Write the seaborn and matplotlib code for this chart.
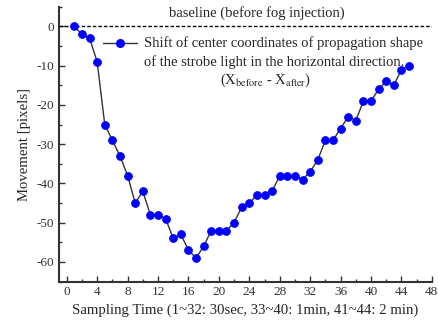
"""Shift of strobe light center during fog injection"""

import matplotlib
matplotlib.use("Agg")
import matplotlib.pyplot as plt
from matplotlib.ticker import MultipleLocator
import seaborn as sns
import pandas as pd

sample_no = list(range(1, 46))
movement = [0, -2, -3, -9, -25, -29, -33, -38, -45, -42,
            -48, -48, -49, -54, -53, -57, -59, -56, -52, -52,
            -52, -50, -46, -45, -43, -43, -42, -38, -38, -38,
            -39, -37, -34, -29, -29, -26, -23, -24, -19, -19,
            -16, -14, -15, -11, -10]
x_ticks = list(range(0, 49, 4))
y_ticks = [0, -10, -20, -30, -40, -50, -60]

df = pd.DataFrame({"sample": sample_no, "movement": movement})

sns.set_style("ticks")
plt.rcParams["font.family"] = ["Liberation Serif", "DejaVu Serif"]
plt.rcParams["mathtext.fontset"] = "stix"
plt.rcParams["axes.unicode_minus"] = False

fig = plt.figure(figsize=(4.38, 3.27), dpi=100)
ax = fig.add_axes([0.135, 0.139, 0.851, 0.84])

ax.axhline(0, color="black", linestyle=(0, (2.5, 1.5)), linewidth=1.0, zorder=1)
sns.lineplot(data=df, x="sample", y="movement", ax=ax, color="#333333",
             linewidth=1.0, marker="o", markersize=5.5, markerfacecolor="blue",
             markeredgecolor="blue", zorder=3)

ax.set_xlim(-1, 48)
ax.set_ylim(-65, 5)
ax.set_xticks(x_ticks)
ax.set_yticks(y_ticks)
ax.xaxis.set_minor_locator(MultipleLocator(2))
ax.yaxis.set_minor_locator(MultipleLocator(5))
ax.tick_params(which="both", direction="in", labelsize=9.5, colors="#333333")
ax.tick_params(which="major", length=4, width=1)
ax.tick_params(which="minor", length=2.5, width=1)
for side in ["top", "right"]:
    ax.spines[side].set_visible(False)
for side in ["left", "bottom"]:
    ax.spines[side].set_linewidth(1.5)
    ax.spines[side].set_color("#333333")

ax.set_xlabel("Sampling Time (1~32: 30sec, 33~40: 1min, 41~44: 2 min)", fontsize=10.6)
ax.set_ylabel("Movement [pixels]", fontsize=10.6)

# legend-like annotations
ax.text(25, 3.4, "baseline (before fog injection)", ha="center", va="center", fontsize=10.5)
ax.plot([4.8, 9.3], [-4.3, -4.3], color="#333333", linewidth=1.0)
ax.plot([7], [-4.3], marker="o", markersize=5.5, color="blue")
ax.text(10.2, -4.3, "Shift of center coordinates of propagation shape",
        ha="left", va="center", fontsize=10.5)
ax.text(10.2, -9.1, "of the strobe light in the horizontal direction.",
        ha="left", va="center", fontsize=10.5)
ax.text(26.2, -13.7, r"(X$_{\mathrm{before}}$ - X$_{\mathrm{after}}$)",
        ha="center", va="center", fontsize=10.5)

fig.savefig("out.png", dpi=100)
